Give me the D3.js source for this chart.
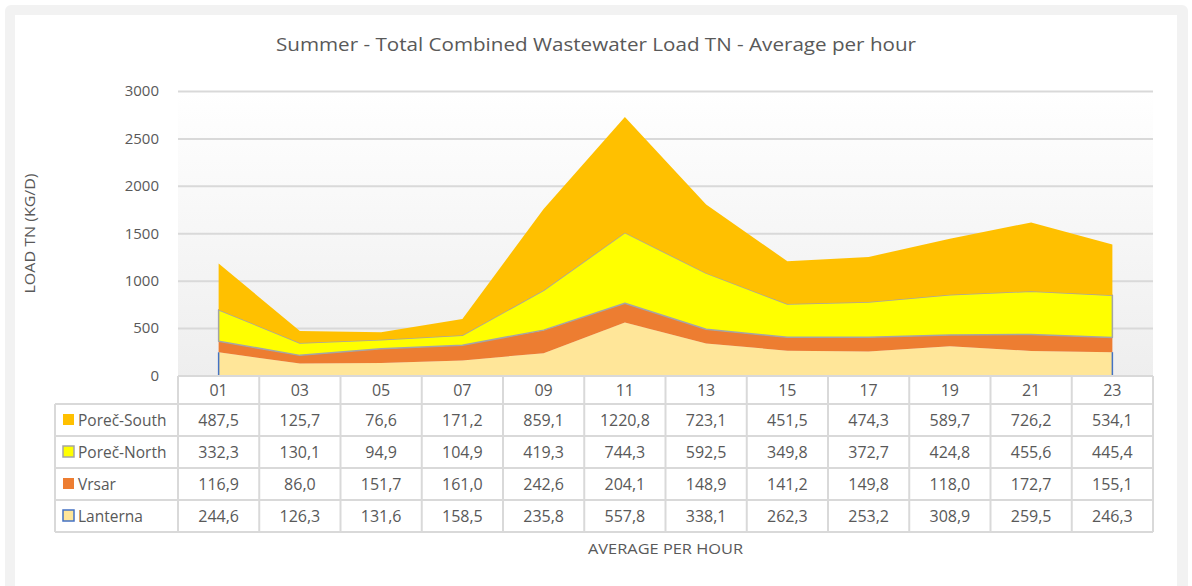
<!DOCTYPE html>
<html>
<head>
<meta charset="utf-8">
<script src="https://cdn.jsdelivr.net/npm/d3@7/dist/d3.min.js"></script>
<style>
  html, body { margin: 0; padding: 0; background: #ffffff; }
  svg { display: block; }
  text { font-family: "Open Sans", "Noto Sans", sans-serif; fill: #595959; }
</style>
</head>
<body>
<svg id="chart" width="1192" height="586"></svg>
<script>
// Hour-of-day categories (summer, average per hour)
const hours = ["01", "03", "05", "07", "09", "11", "13", "15", "17", "19", "21", "23"];

// Total nitrogen load per source, kg/day
const porecSouth = [487.5, 125.7, 76.6, 171.2, 859.1, 1220.8, 723.1, 451.5, 474.3, 589.7, 726.2, 534.1];
const porecNorth = [332.3, 130.1, 94.9, 104.9, 419.3, 744.3, 592.5, 349.8, 372.7, 424.8, 455.6, 445.4];
const vrsar      = [116.9, 86.0, 151.7, 161.0, 242.6, 204.1, 148.9, 141.2, 149.8, 118.0, 172.7, 155.1];
const lanterna   = [244.6, 126.3, 131.6, 158.5, 235.8, 557.8, 338.1, 262.3, 253.2, 308.9, 259.5, 246.3];

const yTicks = [0, 500, 1000, 1500, 2000, 2500, 3000];

// Series in stacking order (bottom first)
const series = [
  { name: "Lanterna",    values: lanterna,   fill: "#FFE699", stroke: "#4472C4" },
  { name: "Vrsar",       values: vrsar,      fill: "#ED7D31", stroke: null },
  { name: "Poreč-North", values: porecNorth, fill: "#FFFF00", stroke: "#A5A5A5" },
  { name: "Poreč-South", values: porecSouth, fill: "#FFC000", stroke: null }
];
// Table rows listed top to bottom
const tableOrder = ["Poreč-South", "Poreč-North", "Vrsar", "Lanterna"];

const svg = d3.select("#chart");

// Outer frame
svg.append("rect")
  .attr("x", 5).attr("y", 5).attr("width", 1183).attr("height", 600)
  .attr("rx", 6).attr("fill", "#f2f2f2");
svg.append("rect")
  .attr("x", 15).attr("y", 15).attr("width", 1162).attr("height", 600)
  .attr("fill", "#ffffff");

const plot = { left: 178, right: 1153, top: 91, bottom: 376 };

const x = d3.scaleBand().domain(hours).range([plot.left, plot.right]);
const y = d3.scaleLinear().domain([0, 3000]).range([plot.bottom - 0.5, plot.top]);
const cx = h => x(h) + x.bandwidth() / 2;

// Plot background gradient
const defs = svg.append("defs");
const grad = defs.append("linearGradient").attr("id", "plotBg")
  .attr("x1", 0).attr("y1", 0).attr("x2", 0).attr("y2", 1);
grad.append("stop").attr("offset", "0%").attr("stop-color", "#ffffff");
grad.append("stop").attr("offset", "100%").attr("stop-color", "#eeeeee");
svg.append("rect")
  .attr("x", plot.left).attr("y", plot.top)
  .attr("width", plot.right - plot.left).attr("height", plot.bottom - plot.top)
  .attr("fill", "url(#plotBg)");

// Title
svg.append("text")
  .attr("x", 596).attr("y", 51)
  .attr("text-anchor", "middle")
  .attr("font-size", 18)
  .attr("fill", "#6b6b6b")
  .attr("textLength", 640).attr("lengthAdjust", "spacingAndGlyphs")
  .text("Summer - Total Combined Wastewater Load TN - Average per hour");

// Gridlines and y-axis labels
const yAxis = d3.axisLeft(y).tickValues(yTicks).tickFormat(d3.format("d"))
  .tickSize(-(plot.right - plot.left)).tickPadding(19);
const gy = svg.append("g").attr("transform", `translate(${plot.left},0)`).call(yAxis);
gy.select(".domain").remove();
gy.selectAll(".tick line").attr("stroke", "#d9d9d9").attr("stroke-width", 2);
gy.selectAll(".tick text").attr("font-size", 15).attr("fill", "#595959")
  .style("font-family", "'Open Sans', sans-serif");

// Y-axis title
svg.append("text")
  .attr("transform", `translate(35,${(plot.top + plot.bottom) / 2}) rotate(-90)`)
  .attr("text-anchor", "middle")
  .attr("font-size", 15)
  .attr("textLength", 120).attr("lengthAdjust", "spacingAndGlyphs")
  .text("LOAD TN (KG/D)");

// Stacked areas
const rows = hours.map((h, i) => {
  const r = { hour: h };
  series.forEach(s => { r[s.name] = s.values[i]; });
  return r;
});
const stack = d3.stack().keys(series.map(s => s.name));
const stacked = stack(rows);

const area = d3.area()
  .x(d => cx(d.data.hour))
  .y0(d => y(d[0]))
  .y1(d => y(d[1]));

stacked.forEach((layer, i) => {
  const s = series[i];
  const outlined = s.stroke && s.name !== "Lanterna";
  svg.append("path")
    .attr("d", area(layer))
    .attr("fill", s.fill)
    .attr("stroke", outlined ? s.stroke : "none")
    .attr("stroke-width", outlined ? 1.5 : 0)
    .attr("stroke-linejoin", "round");
});

// Lanterna outline shows only along its end edges
const baseLayer = stacked[0];
[baseLayer[0], baseLayer[baseLayer.length - 1]].forEach(d => {
  svg.append("line")
    .attr("x1", cx(d.data.hour)).attr("x2", cx(d.data.hour))
    .attr("y1", y(d[0])).attr("y2", y(d[1]))
    .attr("stroke", series[0].stroke).attr("stroke-width", 1.5);
});

// Data table below the plot
const rowH = 32;
const headerTop = plot.bottom;
const headerH = 28;
const tableTop = headerTop + headerH;
const legendLeft = 55;
const tbl = svg.append("g");
const gridColor = "#d9d9d9";

// Horizontal lines
tbl.append("line")
  .attr("x1", plot.left).attr("x2", plot.right)
  .attr("y1", headerTop).attr("y2", headerTop)
  .attr("stroke", gridColor).attr("stroke-width", 2);
for (let r = 0; r <= tableOrder.length; r++) {
  const yy = tableTop + r * rowH;
  tbl.append("line")
    .attr("x1", legendLeft).attr("x2", plot.right)
    .attr("y1", yy).attr("y2", yy)
    .attr("stroke", gridColor).attr("stroke-width", 2);
}
// Vertical lines
const bottomY = tableTop + tableOrder.length * rowH;
tbl.append("line")
  .attr("x1", legendLeft).attr("x2", legendLeft)
  .attr("y1", tableTop).attr("y2", bottomY)
  .attr("stroke", gridColor).attr("stroke-width", 2);
hours.forEach(h => {
  tbl.append("line")
    .attr("x1", x(h)).attr("x2", x(h))
    .attr("y1", headerTop).attr("y2", bottomY)
    .attr("stroke", gridColor).attr("stroke-width", 2);
});
tbl.append("line")
  .attr("x1", plot.right).attr("x2", plot.right)
  .attr("y1", headerTop).attr("y2", bottomY)
  .attr("stroke", gridColor).attr("stroke-width", 2);

// Category header labels
hours.forEach(h => {
  tbl.append("text")
    .attr("x", cx(h)).attr("y", headerTop + headerH / 2 + 6)
    .attr("text-anchor", "middle").attr("font-size", 16)
    .attr("fill", "#595959")
    .text(h);
});

const fmt = v => v.toFixed(1).replace(".", ",");

tableOrder.forEach((name, r) => {
  const s = series.find(d => d.name === name);
  const rowMid = tableTop + r * rowH + rowH / 2;
  // Legend key
  tbl.append("rect")
    .attr("x", 63).attr("y", rowMid - 6)
    .attr("width", 11).attr("height", 11)
    .attr("fill", s.fill)
    .attr("stroke", s.stroke || "none")
    .attr("stroke-width", s.stroke ? 1.5 : 0);
  tbl.append("text")
    .attr("x", 78).attr("y", rowMid + 6)
    .attr("font-size", 15.5).attr("fill", "#595959")
    .text(name);
  s.values.forEach((v, i) => {
    tbl.append("text")
      .attr("x", cx(hours[i])).attr("y", rowMid + 6)
      .attr("text-anchor", "middle").attr("font-size", 16)
      .attr("fill", "#595959")
      .text(fmt(v));
  });
});

// X-axis title
svg.append("text")
  .attr("x", (plot.left + plot.right) / 2).attr("y", 554)
  .attr("text-anchor", "middle")
  .attr("font-size", 15)
  .attr("textLength", 155).attr("lengthAdjust", "spacingAndGlyphs")
  .text("AVERAGE PER HOUR");
</script>
</body>
</html>
